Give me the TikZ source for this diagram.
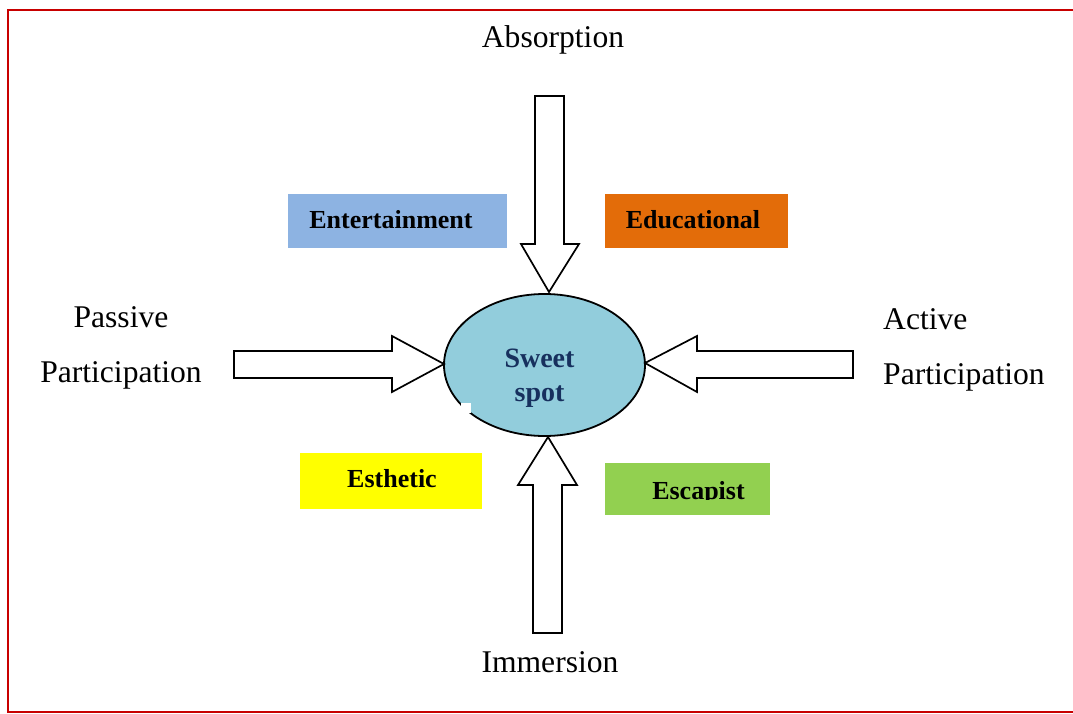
\documentclass[tikz,border=0pt]{standalone}
\usepackage{fontspec}
\setmainfont{Liberation Serif}
\usetikzlibrary{shapes.geometric}
\definecolor{framered}{HTML}{C80000}
\definecolor{spotfill}{HTML}{92CDDC}
\definecolor{spottext}{HTML}{17305E}
\definecolor{entblue}{HTML}{8DB3E2}
\definecolor{eduorange}{HTML}{E36C09}
\definecolor{estyellow}{HTML}{FFFF00}
\definecolor{escgreen}{HTML}{92D050}
\begin{document}
\begin{tikzpicture}[x=1pt,y=-1pt,
  blockarrow/.style={draw=black, line width=1.7pt, fill=white, line join=miter},
  axislabel/.style={font=\fontsize{31.6}{38}\selectfont, anchor=base, inner sep=0pt},
  leftlabel/.style={axislabel, anchor=base west},
  tagbox/.style={draw=none, minimum width=#1, minimum height=54pt, inner sep=0pt},
  tagtext/.style={font=\fontsize{26}{30}\selectfont\bfseries, anchor=base, inner sep=0pt}]
\useasboundingbox (0,0) rectangle (1073,714);
\clip (0,0) rectangle (1073,714);

% outer frame
\draw[framered, line width=2.5pt] (8,10) rectangle (1090,712);

% centre ellipse
\node[ellipse, draw=black, line width=1.8pt, fill=spotfill,
      minimum width=201pt, minimum height=142pt, inner sep=0pt] (spot) at (544.5,365) {};
\fill[white] (461,403) rectangle (471,413);
\node[font=\fontsize{28}{33}\selectfont\bfseries, text=spottext, anchor=base, inner sep=0pt] (sweet) at (539.5,367) {Sweet};
\node[font=\fontsize{28}{33}\selectfont\bfseries, text=spottext, anchor=base, inner sep=0pt] (spotword) at (539.5,401) {spot};

% block arrows pointing at the centre
\coordinate (tiptop) at (549,292);
\coordinate (tipbot) at (548,437);
\coordinate (tipleft) at (444,364);
\coordinate (tipright) at (645,363);
\draw[blockarrow] (535,96) -- (564,96) -- (564,244) -- (579,244) -- (tiptop) -- (521,244) -- (535,244) -- cycle;
\draw[blockarrow] (533,633) -- (562,633) -- (562,485) -- (577,485) -- (tipbot) -- (518,485) -- (533,485) -- cycle;
\draw[blockarrow] (234,351) -- (392,351) -- (392,336) -- (tipleft) -- (392,392) -- (392,378) -- (234,378) -- cycle;
\draw[blockarrow] (853,351) -- (697,351) -- (697,336) -- (tipright) -- (697,392) -- (697,378) -- (853,378) -- cycle;

% axis labels
\node[axislabel] (absorption) at (553,48) {Absorption};
\node[axislabel] (immersion) at (550,672) {Immersion};
\node[axislabel] (passive) at (121,327) {Passive};
\node[axislabel] (passivep) at (121,382) {Participation};
\node[leftlabel] (active) at (883,329) {Active};
\node[leftlabel] (activep) at (883,384) {Participation};

% coloured quadrant tags
\node[tagbox=219pt, fill=entblue] (entbox) at (397.5,221) {};
\node[tagtext] (ent) at (391,229) {Entertainment};
\node[tagbox=183pt, fill=eduorange] (edubox) at (696.5,221) {};
\node[tagtext] (edu) at (693,229) {Educational};
\node[tagbox=182pt, fill=estyellow, minimum height=56pt] (estbox) at (391,481) {};
\node[tagtext] (est) at (392,487) {Esthetic};
\node[tagbox=165pt, fill=escgreen, minimum height=52pt] (escbox) at (687.5,489) {};
\begin{scope}
  \clip (605,463) rectangle (770,499.5);
  \node[tagtext] (esc) at (698.5,499) {Escapist};
\end{scope}
\end{tikzpicture}
\end{document}
